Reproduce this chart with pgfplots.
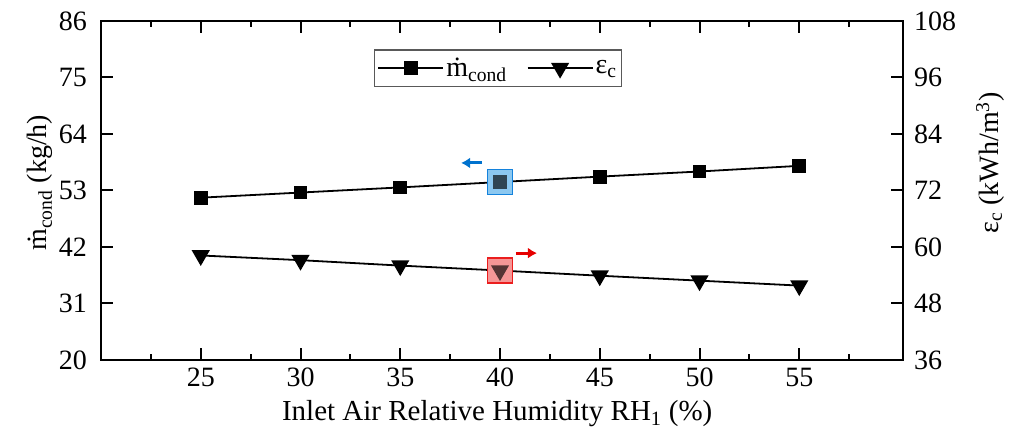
\documentclass[border=0pt]{standalone}
\usepackage{fontspec}
\setmainfont{Liberation Serif}
\usepackage{pgfplots}
\pgfplotsset{compat=1.18}
\usetikzlibrary{arrows.meta}
\definecolor{hlblue}{RGB}{20,130,220}
\definecolor{hlbluefill}{RGB}{140,200,240}
\definecolor{arrblue}{RGB}{0,114,206}
\definecolor{hlred}{RGB}{235,30,30}
\definecolor{hlredfill}{RGB}{245,150,150}
\definecolor{arrred}{RGB}{230,0,0}
\pgfplotsset{
  every axis/.append style={
    scale only axis, width=802pt, height=339pt,
    xmin=20, xmax=60.2,
    line width=2pt,
    tick align=inside,
    major tick length=12pt, minor tick length=6pt,
    tick style={line width=2pt, black},
    ticklabel style={font=\fontsize{28}{30}\selectfont},
    label style={font=\fontsize{28}{32}\selectfont},
    /pgf/number format/assume math mode=true,
  }
}
\begin{document}
\begin{tikzpicture}
\begin{axis}[
  ymin=20, ymax=86,
  xtick={25,30,35,40,45,50,55},
  minor xtick={22.5,27.5,32.5,37.5,42.5,47.5,52.5,57.5},
  ytick={20,31,42,53,64,75,86},
  ytick pos=left,
  xticklabel style={anchor=center, inner sep=0pt, yshift=-17pt},
  yticklabel style={anchor=east, inner sep=0pt, xshift=-13pt},
  xlabel={Inlet Air Relative Humidity RH\textsubscript{1} (\%)},
  ylabel={ṁ\textsubscript{cond} (kg/h)},
  xlabel style={at={(axis description cs:0.494,-0.159)}, anchor=center, font=\fontsize{29}{32}\selectfont},
  ylabel style={at={(axis description cs:-0.076,0.523)}, anchor=center},
]
\addplot[only marks, mark=square*, mark size=12.5pt, mark options={fill=hlbluefill, draw=hlblue, line width=1.6pt}] coordinates {(40,54.65)};
\addplot[black, line width=1.8pt, mark=square*, mark size=6pt, mark options={solid}] coordinates {
(25,51.6) (30,52.6) (35,53.6) (40,54.65) (45,55.7) (50,56.7) (55,57.8)};
\addplot[only marks, mark=square*, mark size=12.5pt, mark options={fill=hlbluefill, fill opacity=0.35, draw=hlblue, line width=1.6pt}] coordinates {(40,54.65)};
\draw[arrblue, line width=3pt, -{Latex[length=9pt,width=11pt]}] (axis cs:39.1,58.36) -- (axis cs:38.05,58.36);
\coordinate (bl) at (rel axis cs:0,0);
\coordinate (tr) at (rel axis cs:1,1);
\end{axis}
\begin{axis}[
  ymin=36, ymax=108,
  axis x line=none,
  axis y line*=right,
  ytick={36,48,60,72,84,96,108},
  yticklabel style={anchor=west, inner sep=0pt, xshift=10pt},
  ylabel={ε\textsubscript{c} (kWh/m\textsuperscript{3})},
  ylabel style={at={(axis description cs:1.1085,0.581)}, anchor=center},
  legend style={at={(0.495,0.861)}, anchor=center, draw=black!65, line width=1.2pt,
    font=\fontsize{28}{30}\selectfont, legend columns=2,
    /tikz/every even column/.append style={column sep=18pt},
    inner xsep=3pt, inner ysep=6pt},
  legend image code/.code={\draw[mark repeat=2,mark phase=2,#1] plot coordinates {(0pt,0pt) (32.5pt,0pt) (65pt,0pt)};},
]
\addlegendimage{black, line width=1.8pt, mark=square*, mark size=6pt, mark options={solid}}
\addlegendentry{ṁ\textsubscript{cond}}
\addplot[only marks, mark=square*, mark size=12.5pt, mark options={fill=hlredfill, draw=hlred, line width=1.6pt}, forget plot] coordinates {(40,55.0)};
\addplot[black, line width=1.8pt, mark=triangle*, mark size=8.7pt, mark options={solid, rotate=180}] coordinates {
(25,58.2) (30,57.2) (35,56.05) (40,55.0) (45,53.9) (50,52.85) (55,51.8)};
\addlegendentry{ε\textsubscript{c}}
\addplot[only marks, mark=square*, mark size=12.5pt, mark options={fill=hlredfill, fill opacity=0.35, draw=hlred, line width=1.6pt}, forget plot] coordinates {(40,55.0)};
\draw[arrred, line width=3pt, -{Latex[length=9pt,width=11pt]}] (axis cs:40.8,58.7) -- (axis cs:41.85,58.7);
\end{axis}
\pgfresetboundingbox
\path ([xshift=-101pt,yshift=-74pt]bl) rectangle ([xshift=117pt,yshift=21pt]tr);
\end{tikzpicture}
\end{document}
